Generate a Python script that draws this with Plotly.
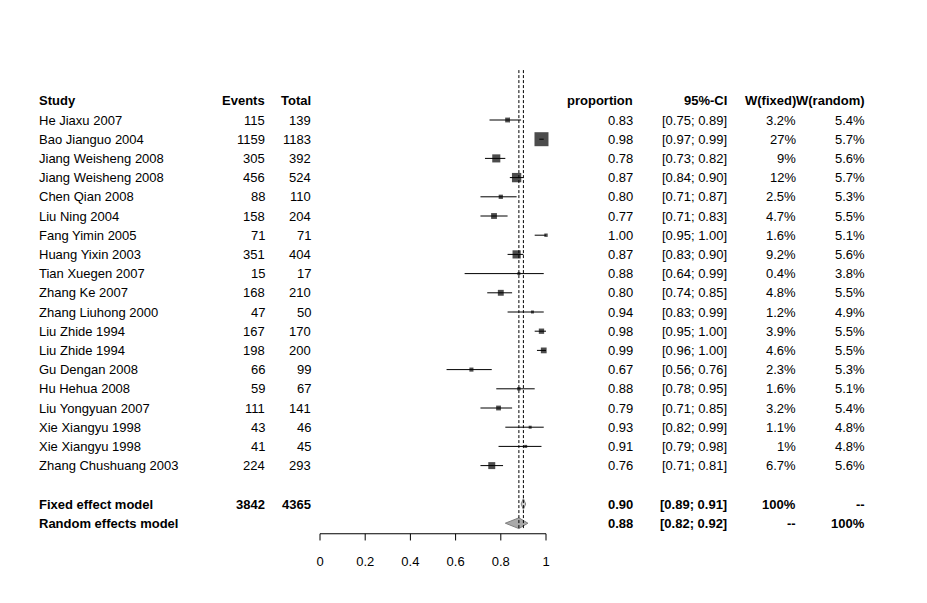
import plotly.graph_objects as go

studies = ["He Jiaxu 2007", "Bao Jianguo 2004", "Jiang Weisheng 2008", "Jiang Weisheng 2008",
           "Chen Qian 2008", "Liu Ning 2004", "Fang Yimin 2005", "Huang Yixin 2003",
           "Tian Xuegen 2007", "Zhang Ke 2007", "Zhang Liuhong 2000", "Liu Zhide 1994",
           "Liu Zhide 1994", "Gu Dengan 2008", "Hu Hehua 2008", "Liu Yongyuan 2007",
           "Xie Xiangyu 1998", "Xie Xiangyu 1998", "Zhang Chushuang 2003"]
events = [115, 1159, 305, 456, 88, 158, 71, 351, 15, 168, 47, 167, 198, 66, 59, 111, 43, 41, 224]
totals = [139, 1183, 392, 524, 110, 204, 71, 404, 17, 210, 50, 170, 200, 99, 67, 141, 46, 45, 293]
prop = [0.83, 0.98, 0.78, 0.87, 0.80, 0.77, 1.00, 0.87, 0.88, 0.80, 0.94, 0.98, 0.99, 0.67, 0.88, 0.79, 0.93, 0.91, 0.76]
lo = [0.75, 0.97, 0.73, 0.84, 0.71, 0.71, 0.95, 0.83, 0.64, 0.74, 0.83, 0.95, 0.96, 0.56, 0.78, 0.71, 0.82, 0.79, 0.71]
hi = [0.89, 0.99, 0.82, 0.90, 0.87, 0.83, 1.00, 0.90, 0.99, 0.85, 0.99, 1.00, 1.00, 0.76, 0.95, 0.85, 0.99, 0.98, 0.81]
w_fixed = ["3.2%", "27%", "9%", "12%", "2.5%", "4.7%", "1.6%", "9.2%", "0.4%", "4.8%", "1.2%", "3.9%",
           "4.6%", "2.3%", "1.6%", "3.2%", "1.1%", "1%", "6.7%"]
w_random = ["5.4%", "5.7%", "5.6%", "5.7%", "5.3%", "5.5%", "5.1%", "5.6%", "3.8%", "5.5%", "4.9%", "5.5%",
            "5.5%", "5.3%", "5.1%", "5.4%", "4.8%", "4.8%", "5.6%"]
fixed = dict(label="Fixed effect model", ev="3842", tot="4365", est=0.90, lo=0.89, hi=0.91, wf="100%", wr="--")
rand = dict(label="Random effects model", est=0.88, lo=0.82, hi=0.92, wf="--", wr="100%")
ticks = [0, 0.2, 0.4, 0.6, 0.8, 1]
tick_labels = ["0", "0.2", "0.4", "0.6", "0.8", "1"]

FONT = "Liberation Sans, Arial, sans-serif"
n = len(studies)
rows = list(range(n))
y_fix, y_ran = n + 1, n + 2
y_axis = n + 2.55

fig = go.Figure()

# CI lines
for i in rows:
    fig.add_trace(go.Scatter(x=[lo[i], hi[i]], y=[i, i], mode="lines",
                             line=dict(color="black", width=1), hoverinfo="skip"))
wnum = [float(w.strip("%")) for w in w_fixed]
fig.add_trace(go.Scatter(x=prop, y=rows, mode="markers",
                         marker=dict(symbol="square", color="black", line=dict(width=0),
                                     size=[max(3, 14 * (w / 27) ** 0.5) for w in wnum]),
                         hoverinfo="skip"))

# reference lines
for v in (fixed["est"], rand["est"]):
    fig.add_shape(type="line", x0=v, x1=v, y0=-2.6, y1=y_axis - 0.2,
                  line=dict(color="black", width=1, dash="3px,2px"))

# diamonds
for d, y, col in ((fixed, y_fix, "lightgray"), (rand, y_ran, "darkgray")):
    fig.add_trace(go.Scatter(x=[d["lo"], d["est"], d["hi"], d["est"], d["lo"]],
                             y=[y, y - 0.28, y, y + 0.28, y], mode="lines", fill="toself",
                             fillcolor=col, line=dict(color="gray", width=1), hoverinfo="skip"))

# x axis
fig.add_shape(type="line", x0=0, x1=1, y0=y_axis, y1=y_axis, line=dict(color="black", width=1))
for t in ticks:
    fig.add_shape(type="line", x0=t, x1=t, y0=y_axis, y1=y_axis + 0.35, line=dict(color="black", width=1))
fig.add_trace(go.Scatter(x=ticks, y=[y_axis + 1.5] * len(ticks), mode="text", text=tick_labels,
                         textfont=dict(family=FONT, size=13, color="black"), hoverinfo="skip"))

cols = dict(study=-1.252, ev=-0.235, tot=-0.031, prop=1.394, ci=1.810, wf=2.115, wr=2.420)


def txt(x, y, s, anchor="right", bold=False):
    fig.add_annotation(x=x, y=y, text=f"<b>{s}</b>" if bold else s, showarrow=False,
                       xanchor=anchor, yanchor="middle", font=dict(family=FONT, size=13, color="black"))


hy = -1
for k, s in (("study", "Study"), ("ev", "Events"), ("tot", "Total"), ("prop", "proportion"),
             ("ci", "95%-CI"), ("wf", "W(fixed)"), ("wr", "W(random)")):
    txt(cols[k], hy, s, "left" if k == "study" else "right", True)

for i in rows:
    txt(cols["study"], i, studies[i], "left")
    txt(cols["ev"], i, str(events[i]))
    txt(cols["tot"], i, str(totals[i]))
    txt(cols["prop"], i, f"{prop[i]:.2f}")
    txt(cols["ci"], i, f"[{lo[i]:.2f}; {hi[i]:.2f}]")
    txt(cols["wf"], i, w_fixed[i])
    txt(cols["wr"], i, w_random[i])

for d, y in ((fixed, y_fix), (rand, y_ran)):
    txt(cols["study"], y, d["label"], "left", True)
    if "ev" in d:
        txt(cols["ev"], y, d["ev"], bold=True)
        txt(cols["tot"], y, d["tot"], bold=True)
    txt(cols["prop"], y, f"{d['est']:.2f}", bold=True)
    txt(cols["ci"], y, f"[{d['lo']:.2f}; {d['hi']:.2f}]", bold=True)
    txt(cols["wf"], y, d["wf"], bold=True)
    txt(cols["wr"], y, d["wr"], bold=True)

# page has an 8px body margin, so the figure origin sits at (8, 8)
x0 = -312 / 226
x1 = (927 - 312) / 226
fig.update_layout(width=927, height=603, margin=dict(l=0, r=0, t=0, b=0),
                  plot_bgcolor="white", paper_bgcolor="white", showlegend=False,
                  xaxis=dict(range=[x0, x1], visible=False),
                  yaxis=dict(range=[(603 - 112) / 19.2, -112 / 19.2], visible=False))
fig.write_html("out.html")
